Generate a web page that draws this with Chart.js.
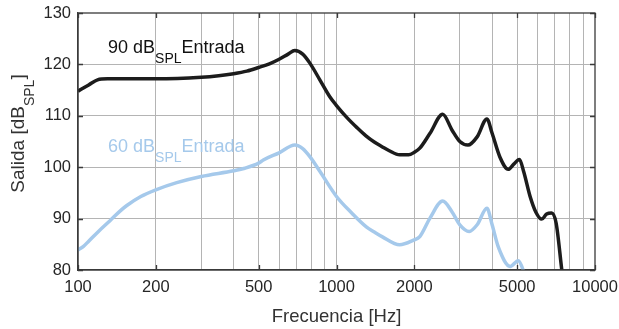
<!DOCTYPE html>
<html>
<head>
<meta charset="utf-8">
<script src="https://cdn.jsdelivr.net/npm/chart.js@4.4.1/dist/chart.umd.min.js"></script>
<style>
html,body{margin:0;padding:0;background:#fff;}
#wrap{width:619px;height:329px;}
</style>
</head>
<body>
<div id="wrap"><canvas id="c" width="619" height="329"></canvas></div>
<script>
// ---- data ----
const blackHz = [100,110,119,130,150,200,300,350,400,450,500,550,600,650,690,740,790,862,942,1000,1100,1200,1300,1400,1500,1600,1755,1900,2000,2100,2300,2575,2800,3000,3226,3500,3818,4000,4285,4620,4850,5100,5300,5610,5900,6220,6500,6790,7075,7440,7700];
const blackDb = [114.8,116.0,117.0,117.2,117.2,117.2,117.5,117.8,118.2,118.7,119.4,120.1,121.0,122.0,122.7,122.0,120.2,117.0,113.7,112.0,109.6,107.7,106.1,104.9,104.0,103.2,102.4,102.4,102.9,103.7,106.6,110.3,107.2,105.0,104.3,105.9,109.4,106.6,102.0,99.6,100.6,101.5,99.1,94.3,91.3,89.9,90.9,91.1,89.1,80.0,74.0];
const blueHz = [100,105,110,120,133,145,154,175,200,241,300,400,442,500,521,600,690,740,790,862,1000,1150,1304,1400,1500,1755,1985,2100,2300,2575,2800,3000,3260,3500,3818,4000,4225,4700,5050,5270,5400];
const blueDb = [83.9,84.6,85.6,87.5,89.6,91.4,92.5,94.3,95.6,97.0,98.2,99.3,99.8,100.8,101.4,102.8,104.3,103.6,102.0,99.2,94.3,91.0,88.4,87.4,86.5,84.9,85.8,86.5,90.1,93.4,91.3,88.8,87.5,88.8,92.0,88.8,84.5,80.7,81.8,80.0,78.0];
const xGridTicks = [100,200,300,400,500,600,700,800,900,1000,2000,3000,4000,5000,6000,7000,8000,9000,10000];
const xLabels = [100,200,500,1000,2000,5000,10000];
const yTicks = [80,90,100,110,120,130];
const seriesLabels = [['90 dB','SPL','Entrada'],['60 dB','SPL','Entrada']];
const yTitle = ['Salida [dB','SPL',']'];
const xTitle = 'Frecuencia [Hz]';

const BLACK = '#1c1c1c';
const BLUE = '#a5c9eb';
const FONT = "'Liberation Sans', Arial, Helvetica, sans-serif";

function pts(xs, ys){ return xs.map((v,i)=>({x:v,y:ys[i]})); }

function drawSubText(ctx, parts, x, y, color, size, subSize, subShift){
  ctx.fillStyle = color;
  ctx.textBaseline = 'alphabetic';
  ctx.textAlign = 'left';
  let cx = x;
  parts.forEach((p,i)=>{
    const isSub = (i % 2 === 1);
    ctx.font = (isSub ? subSize : size) + 'px ' + FONT;
    ctx.fillText(p, cx, isSub ? y + subShift : y);
    cx += ctx.measureText(p).width;
  });
}
function measureSub(ctx, parts, size, subSize){
  let w = 0;
  parts.forEach((p,i)=>{
    ctx.font = ((i%2===1)?subSize:size) + 'px ' + FONT;
    w += ctx.measureText(p).width;
  });
  return w;
}

const deco = {
  id: 'deco',
  afterDatasetsDraw(chart){
    const {ctx, chartArea:a, scales:{x, y}} = chart;
    ctx.save();
    ctx.strokeStyle = '#3a3a3a';
    ctx.lineWidth = 1.3;
    ctx.strokeRect(a.left, a.top, a.right - a.left, a.bottom - a.top);
    ctx.beginPath();
    xLabels.forEach(v=>{
      const px = Math.round(x.getPixelForValue(v)) + 0.5;
      ctx.moveTo(px, a.bottom); ctx.lineTo(px, a.bottom - 5);
      ctx.moveTo(px, a.top); ctx.lineTo(px, a.top + 5);
    });
    yTicks.forEach(v=>{
      const py = Math.round(y.getPixelForValue(v)) + 0.5;
      ctx.moveTo(a.left, py); ctx.lineTo(a.left + 5, py);
      ctx.moveTo(a.right, py); ctx.lineTo(a.right - 5, py);
    });
    ctx.stroke();
    // series labels
    drawSubText(ctx, seriesLabels[0], 108, 52.5, '#111', 18, 14, 10);
    drawSubText(ctx, seriesLabels[1], 108, 151.5, BLUE, 18, 14, 10);
    // y title rotated
    const w = measureSub(ctx, yTitle, 19, 14);
    ctx.translate(24, 133.5 + w/2);
    ctx.rotate(-Math.PI/2);
    drawSubText(ctx, yTitle, 0, 0, '#333', 19, 14, 10);
    ctx.restore();
  }
};

new Chart(document.getElementById('c'), {
  type: 'line',
  data: {
    datasets: [
      {data: pts(blackHz, blackDb), borderColor: BLACK, borderWidth: 3.5, pointRadius: 0, cubicInterpolationMode: 'monotone', clip: 0, fill: false},
      {data: pts(blueHz, blueDb), borderColor: BLUE, borderWidth: 3.5, pointRadius: 0, cubicInterpolationMode: 'monotone', clip: 0, fill: false}
    ]
  },
  options: {
    responsive: false,
    animation: false,
    layout: {padding: {top: 13, right: 24, left: 0, bottom: 0}},
    plugins: {legend: {display: false}, tooltip: {enabled: false}, title: {display: false}},
    scales: {
      x: {
        type: 'logarithmic',
        min: 100, max: 10000,
        afterBuildTicks: (s) => { s.ticks = xGridTicks.map(v=>({value:v})); },
        afterFit: (s) => { s.height = 59; s.paddingLeft = 0; s.paddingRight = 0; s.paddingTop = 0; s.paddingBottom = 0; },
        ticks: {
          autoSkip: false, maxRotation: 0, minRotation: 0,
          font: {family: FONT, size: 16.5}, color: '#262626', padding: 8,
          callback: (v) => xLabels.includes(v) ? String(v) : ''
        },
        grid: {color: (c)=> (c.tick && (c.tick.value===100||c.tick.value===10000)) ? 'rgba(0,0,0,0)' : '#b4b4b4', lineWidth: 1, drawTicks: false},
        border: {display: true, color: '#3a3a3a', width: 1.3},
        title: {display: true, text: xTitle, font: {family: FONT, size: 18.5}, color: '#333', padding: {top: 0, bottom: 1}}
      },
      y: {
        min: 80, max: 130,
        afterBuildTicks: (s) => { s.ticks = yTicks.map(v=>({value:v})); },
        afterFit: (s) => { s.width = 78; s.paddingLeft = 0; s.paddingRight = 0; s.paddingTop = 0; s.paddingBottom = 0; },
        ticks: {font: {family: FONT, size: 16.5}, color: '#262626', padding: 7},
        grid: {color: (c)=> (c.tick && (c.tick.value===80||c.tick.value===130)) ? 'rgba(0,0,0,0)' : '#b4b4b4', lineWidth: 1, drawTicks: false},
        border: {display: true, color: '#3a3a3a', width: 1.3}
      }
    }
  },
  plugins: [deco]
});
</script>
</body>
</html>
